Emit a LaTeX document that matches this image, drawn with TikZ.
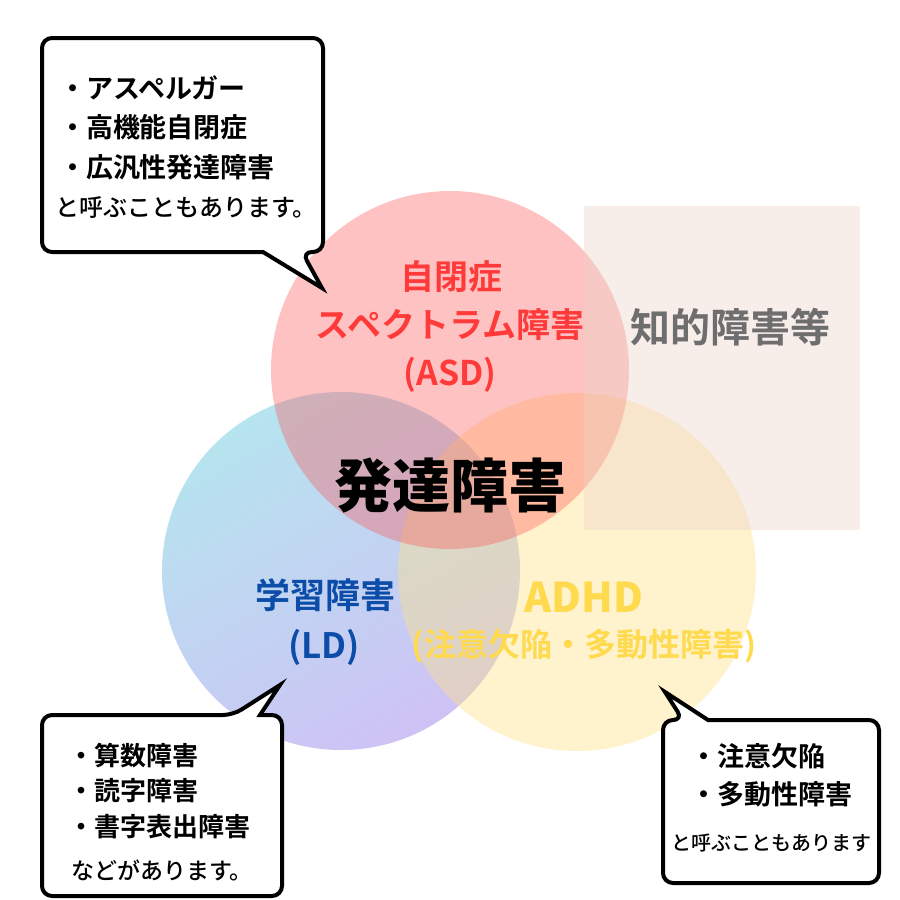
\documentclass[tikz,border=0pt]{standalone}
\usepackage{fontspec}
\newfontfamily\jp{Noto Sans CJK JP}[BoldFont={Noto Sans CJK JP Bold}]
\newfontfamily\jpm{Noto Sans CJK JP Medium}
\newfontfamily\jpk{Noto Sans CJK JP Black}
\newcommand\fsz[1]{\fontsize{#1}{#1}\selectfont}
\definecolor{blueA}{HTML}{B6E4EF}
\definecolor{blueB}{HTML}{CEC2F5}
\definecolor{yelC}{HTML}{FFE384}
\definecolor{redC}{HTML}{FF4E4E}
\definecolor{rectC}{HTML}{EDD4C8}
\definecolor{redT}{HTML}{FF3A3A}
\definecolor{blueT}{HTML}{0B4DA8}
\definecolor{yelT}{HTML}{FFDA4F}
\definecolor{grayT}{HTML}{6E6E6E}
\begin{document}
\begin{tikzpicture}[x=1pt,y=-1pt,
  lab/.style={inner sep=0pt, outer sep=0pt, anchor=center},
  item/.style={inner sep=0pt, outer sep=0pt, anchor=west, font=\jp\bfseries\fsz{27}},
  bubble/.style={draw=black, fill=white, line width=4pt, line join=miter}]
\useasboundingbox (0,0) rectangle (900,900);
\fill[white] (0,0) rectangle (900,900);
% circles
\coordinate (cB) at (341,571);
\coordinate (cY) at (577,572);
\coordinate (cR) at (450,370);
\shade[top color=blueA, bottom color=blueB, shading angle=30] (cB) circle[radius=179];
\fill[yelC, fill opacity=0.4] (cY) circle[radius=179];
\fill[redC, fill opacity=0.34] (cR) circle[radius=179];
% rectangle
\fill[rectC, fill opacity=0.4] (584,206) rectangle (860,530);
% circle labels
\node[lab, text=redT, font=\jp\bfseries\fsz{34}] (asd1) at (451,277) {自閉症};
\node[lab, text=redT, font=\jp\bfseries\fsz{34}] (asd2) at (450,325) {スペクトラム障害};
\node[lab, text=redT, font=\jp\bfseries\fsz{34}] (asd3) at (450,375) {(ASD)};
\node[lab, text=grayT, font=\jp\bfseries\fsz{40}] (chi) at (730,327) {知的障害等};
\node[lab, text=black, font=\jpk\fsz{58}] (hat) at (450,486) {発達障害};
\node[lab, text=blueT, font=\jp\bfseries\fsz{35}] (ld1) at (325,595) {学習障害};
\node[lab, text=blueT, font=\jp\bfseries\fsz{35}] (ld2) at (324,647) {(LD)};
\node[lab, text=yelT, font=\jpk\fsz{41}] (ad1) at (584,597) {ADHD};
\node[lab, text=yelT, font=\jp\bfseries\fsz{32}] (ad2) at (584,646) {(注意欠陥・多動性障害)};
% bubble 1
\draw[bubble] (302,252) [sharp corners] -- (322,288) -- (263,252) [rounded corners=10pt] -- (42,252) -- (42,38) -- (323,38) -- (323,252) -- cycle;
\node[item] (b1a) at (59,88) {・アスペルガー};
\node[item] (b1b) at (59,127) {・高機能自閉症};
\node[item] (b1c) at (59,167) {・広汎性発達障害};
\node[lab, font=\jpm\fsz{24}] (b1d) at (186,208) {と呼ぶこともあります。};
% bubble 2
\draw[bubble] (233,715) [sharp corners] -- (280,685) -- (260,715) [rounded corners=10pt] -- (282,715) -- (282,896) -- (42,896) -- (42,715) -- cycle;
\node[item, font=\jp\bfseries\fsz{26}] (b2a) at (68,756) {・算数障害};
\node[item, font=\jp\bfseries\fsz{26}] (b2b) at (68,791) {・読字障害};
\node[item, font=\jp\bfseries\fsz{26}] (b2c) at (68,827) {・書字表出障害};
\node[lab, font=\jpm\fsz{23}] (b2d) at (162,870) {などがあります。};
% bubble 3
\draw[bubble] (683,720) [sharp corners] -- (665,692) -- (708,720) [rounded corners=10pt] -- (879,720) -- (879,883) -- (663,883) -- (663,720) -- cycle;
\node[item] (b3a) at (690,756) {・注意欠陥};
\node[item] (b3b) at (690,794) {・多動性障害};
\node[lab, font=\jpm\fsz{20}] (b3c) at (771,843) {と呼ぶこともあります};
\end{tikzpicture}
\end{document}
